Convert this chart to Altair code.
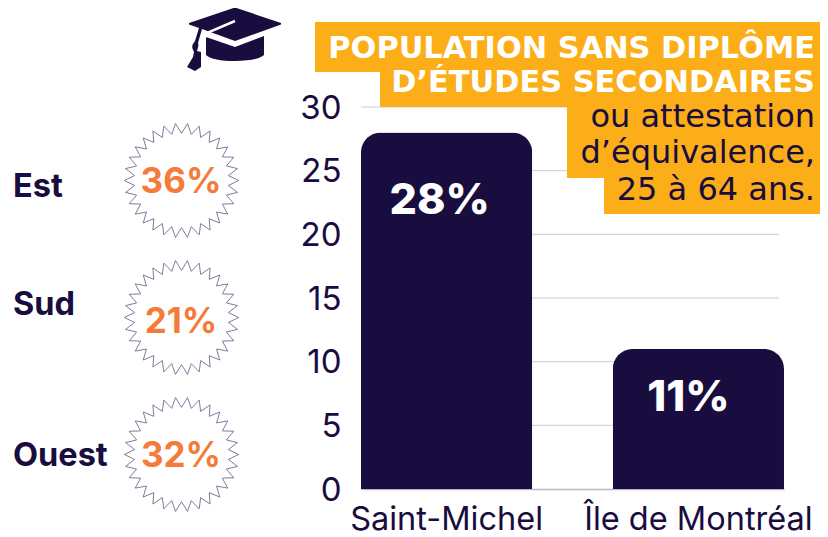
import math
import altair as alt
import pandas as pd

NAVY = "#180d3e"
ORANGE = "#f47b3a"
GOLD = "#fbae17"
GRID = "#cdcbdd"
FONT = "Inter"
TITLE_FONT = "DejaVu Sans"

territories = ["Saint-Michel", "Île de Montréal"]
values = [28, 11]
value_labels = ["28%", "11%"]
axis_ticks = [0, 5, 10, 15, 20, 25, 30]
grid_ticks = [5, 10, 15, 20, 25, 30]
sectors = ["Est", "Sud", "Ouest"]
sector_labels = ["36%", "21%", "32%"]
title_bold = ["POPULATION SANS DIPLÔME", "D’ÉTUDES SECONDAIRES"]
title_regular = ["ou attestation", "d’équivalence,", "25 à 64 ans."]

PLOT_LEFT, PLOT_TOP = 361, 107
def X(v): return v - PLOT_LEFT
def Y(v): return v - PLOT_TOP

one = pd.DataFrame({"k": [0]})
bars_df = pd.DataFrame({"territory": territories, "value": values, "label": value_labels})

x_scale = alt.Scale(domain=territories, paddingInner=0.32, paddingOuter=0)
y_scale = alt.Scale(domain=[0, 30], nice=False)
y_axis = alt.Axis(values=axis_ticks, labelFontSize=33, labelFont=FONT, labelColor=NAVY, labelOffset=1,
                  labelPadding=20, ticks=False, domain=False, grid=False)

grid = alt.Chart(pd.DataFrame({"t": grid_ticks})).mark_rule(color=GRID, strokeWidth=1).encode(
    y=alt.Y("t:Q", scale=y_scale, axis=y_axis, title=None), x=alt.value(0), x2=alt.value(X(779)))

bars = alt.Chart(bars_df).mark_bar(color=NAVY, cornerRadiusTopLeft=20, cornerRadiusTopRight=20).encode(
    x=alt.X("territory:N", scale=x_scale, sort=territories, title=None,
            axis=alt.Axis(labelAngle=0, labelFontSize=32.5, labelFont=FONT, labelColor=NAVY,
                          labelPadding=14.5, ticks=False, domainColor="#b9b7cc", domainWidth=1.5,
                          labelBaseline="top", labelLimit=300)),
    y=alt.Y("value:Q", scale=y_scale, title=None, axis=y_axis))

def value_text(i, dx, dy):
    return alt.Chart(bars_df.iloc[[i]]).mark_text(
        font=FONT, fontWeight=800, fontSize=43, color="white", dx=dx, dy=dy, baseline="middle", align="center"
    ).encode(x=alt.X("territory:N", scale=x_scale, sort=territories),
             y=alt.Y("value:Q", scale=y_scale), text="label:N")

def rect(x0, y0, x1, y1):
    return alt.Chart(one).mark_rect(color=GOLD).encode(
        x=alt.value(X(x0)), x2=alt.value(X(x1)), y=alt.value(Y(y0)), y2=alt.value(Y(y1)))

def text(s, x, y, size, color, weight="normal", align="left", baseline="alphabetic", font=FONT):
    return alt.Chart(pd.DataFrame({"s": [s]})).mark_text(
        font=font, fontSize=size, color=color, fontWeight=weight, align=align, baseline=baseline
    ).encode(x=alt.value(X(x)), y=alt.value(Y(y)), text="s:N")

def star_path(n=30, inner=47 / 57):
    pts = []
    for i in range(2 * n):
        a = math.radians(6 + 6 * i)
        r = 1 if i % 2 == 0 else inner
        pts.append(f"{r * math.sin(a):.4f},{-r * math.cos(a):.4f}")
    return "M" + " L".join(pts) + " Z"
STAR = star_path()

def star(cx, cy):
    return alt.Chart(one).mark_point(shape=STAR, size=(2 * 57.2) ** 2, stroke="#5f5a80", strokeWidth=0.8,
                                     fill="white", fillOpacity=0, opacity=1).encode(
        x=alt.value(X(cx)), y=alt.value(Y(cy)))

CAP = ("M0,-27.5 L46,-12 L46,-10.5 L0,6 L-33,-6 L-37,8 L-36.5,10 Q-37,13 -38,16 L-34,17 L-34,32 L-40,36 "
       "L-48,32 L-42,22 L-41,17 Q-44,12 -42,9 L-40,6 L-36,-7 L-46,-10.5 L-46,-12 Z "
       "M-29,2 L0,12 L29,1 L29,20 Q22,26 0,26 Q-22,26 -29,20 Z")
STRAP = "M0,-14 L-26,-3 Q-30,0 -30,3"

cap = alt.Chart(one).mark_point(shape=CAP, size=4, filled=True, fill=NAVY, opacity=1, strokeWidth=0).encode(
    x=alt.value(X(235)), y=alt.value(Y(35)))
strap = alt.Chart(one).mark_point(shape=STRAP, size=4, filled=False, stroke="white", strokeWidth=2.5, opacity=1).encode(
    x=alt.value(X(235)), y=alt.value(Y(35)))

layers = [grid, bars, value_text(0, -7, 69), value_text(1, -10, 49),
          rect(315, 22, 820, 72), rect(380, 72, 820, 107), rect(567, 107, 820, 178), rect(604, 178, 820, 214),
          text(title_bold[0], 815, 58, 30.4, "white", "bold", "right", font=TITLE_FONT),
          text(title_bold[1], 815, 92, 30.4, "white", "bold", "right", font=TITLE_FONT),
          text(title_regular[0], 815, 127, 32, NAVY, "normal", "right", font=TITLE_FONT),
          text(title_regular[1], 815, 163, 32, NAVY, "normal", "right", font=TITLE_FONT),
          text(title_regular[2], 815, 200, 32, NAVY, "normal", "right", font=TITLE_FONT),
          cap, strap,
          star(181.5, 180.5), star(181.5, 317.5), star(181.5, 454.5),
          text(sector_labels[0], 181, 181.5, 35, ORANGE, "bold", "center", "middle"),
          text(sector_labels[1], 181, 321.5, 35, ORANGE, "bold", "center", "middle"),
          text(sector_labels[2], 181, 455.5, 35, ORANGE, "bold", "center", "middle"),
          text(sectors[0], 13, 187, 32.5, NAVY, "bold", "left", "middle"),
          text(sectors[1], 13, 305, 32.5, NAVY, "bold", "left", "middle"),
          text(sectors[2], 13, 456, 32.5, NAVY, "bold", "left", "middle")]

chart = alt.layer(*layers).properties(
    width=423, height=382,
    padding={"left": 353, "top": 99, "right": 36, "bottom": 48},
    autosize=alt.AutoSizeParams(type="none"),
    background="white",
).configure_view(stroke=None)

chart.save("out.html", embed_options={"renderer": "svg", "actions": False})
